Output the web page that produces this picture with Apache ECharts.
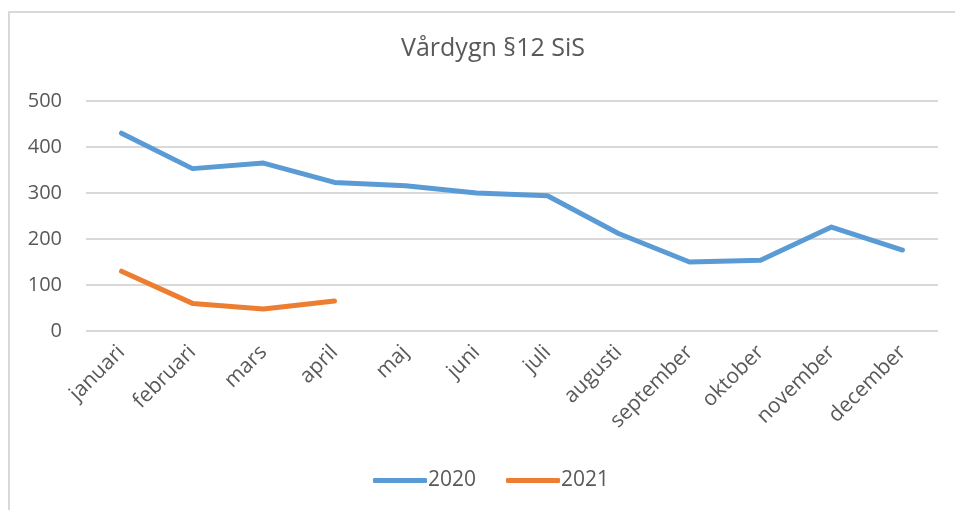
<!DOCTYPE html>
<html>
<head>
<meta charset="utf-8">
<script src="https://cdn.jsdelivr.net/npm/echarts@6/dist/echarts.min.js"></script>
<style>
  html, body { margin: 0; padding: 0; background: #fff; overflow: hidden; }
  #frame { position: absolute; left: 8px; top: 11px; width: 960px; height: 520px; border: 2px solid #d9d9d9; }
  #myChart { position: absolute; left: 0; top: 0; width: 955px; height: 510px; }
</style>
</head>
<body>
<div id="frame"></div>
<div id="myChart"></div>
<script>
const months = ['januari', 'februari', 'mars', 'april', 'maj', 'juni', 'juli', 'augusti', 'september', 'oktober', 'november', 'december']
const values2020 = [430, 353, 365, 323, 316, 300, 294, 212, 150, 154, 226, 176]
const values2021 = [130, 60, 48, 65]
const yTicks = [0, 100, 200, 300, 400, 500]

const textColor = '#595959'
const lineColor = '#d9d9d9'
const fontFamily = '"Open Sans", "Liberation Sans", sans-serif'

const chart = echarts.init(document.getElementById('myChart'))
chart.setOption({
  color: ['#5B9BD5', '#ED7D31'],
  textStyle: { fontFamily: fontFamily },
  title: {
    text: 'Vårdygn §12 SiS',
    left: 488,
    textAlign: 'center',
    top: 31,
    textStyle: { color: textColor, fontSize: 25, fontWeight: 'normal', fontFamily: fontFamily }
  },
  legend: {
    bottom: 14,
    left: 368,
    itemWidth: 54,
    itemHeight: 5,
    itemGap: 30,
    icon: 'roundRect',
    textStyle: { color: textColor, fontSize: 21, padding: [0, 0, 0, -4] }
  },
  grid: {
    left: 86,
    right: 17,
    top: 101,
    bottom: 179
  },
  xAxis: {
    type: 'category',
    data: months,
    axisLine: { show: false },
    axisTick: { show: false },
    axisLabel: {
      color: textColor,
      fontSize: 21,
      rotate: 45,
      margin: 18,
      interval: 0
    },
    splitLine: { show: false }
  },
  yAxis: {
    type: 'value',
    min: yTicks[0],
    max: yTicks[yTicks.length - 1],
    interval: 100,
    axisLine: { show: false },
    axisTick: { show: false },
    axisLabel: { color: textColor, fontSize: 20, margin: 24 },
    splitLine: { show: true, lineStyle: { color: lineColor, width: 2 } }
  },
  series: [
    {
      name: '2020',
      type: 'line',
      data: values2020,
      symbol: 'none',
      lineStyle: { width: 5, cap: 'round', join: 'round' }
    },
    {
      name: '2021',
      type: 'line',
      data: values2021,
      symbol: 'none',
      lineStyle: { width: 5, cap: 'round', join: 'round' }
    }
  ]
})
</script>
</body>
</html>
